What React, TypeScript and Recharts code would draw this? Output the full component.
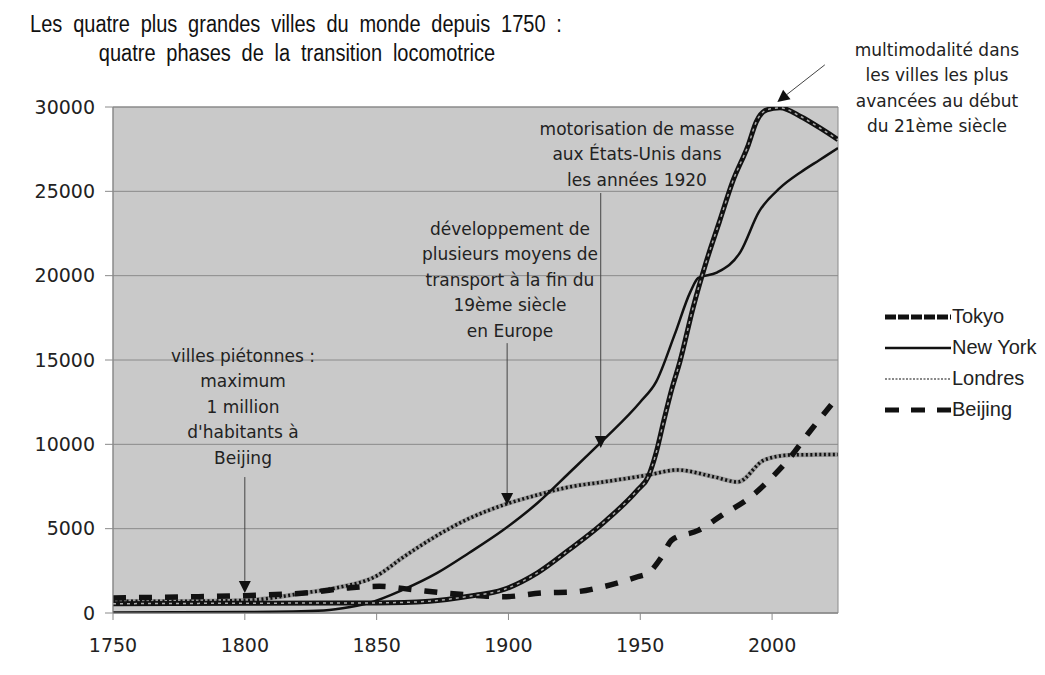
import React from 'react';
import { LineChart, Line, XAxis, YAxis, CartesianGrid, ReferenceLine, ReferenceArea } from 'recharts';

// population, milliers d'habitants
const tokyoYears = [1750, 1800, 1850, 1870, 1885, 1898, 1911, 1923, 1936, 1949, 1953, 1956, 1959, 1962, 1965, 1970, 1975, 1980, 1985, 1991, 1994, 1998, 2003, 2011, 2018, 2025];
const tokyoPop = [550, 580, 600, 700, 990, 1380, 2380, 3750, 5350, 7300, 8070, 9490, 11450, 13300, 14880, 18080, 20810, 23190, 25560, 27760, 29120, 29830, 29950, 29420, 28770, 28060];

const newYorkYears = [1750, 1800, 1830, 1840, 1847, 1860, 1873, 1885, 1898, 1911, 1923, 1936, 1950, 1956, 1963, 1969, 1972, 1979, 1988, 1995, 2003, 2011, 2018, 2025];
const newYorkPop = [30, 60, 150, 350, 590, 1380, 2380, 3560, 4920, 6520, 8300, 10260, 12510, 13700, 16490, 19040, 19870, 20180, 21410, 23780, 25200, 26150, 26860, 27570];

const londresYears = [1750, 1775, 1800, 1823, 1835, 1850, 1860, 1873, 1885, 1899, 1911, 1923, 1936, 1953, 1964, 1978, 1987, 1997, 2007, 2025];
const londresPop = [690, 700, 750, 1200, 1500, 2200, 3300, 4600, 5600, 6450, 7000, 7470, 7770, 8180, 8480, 8070, 7770, 9070, 9370, 9400];

const beijingYears = [1750, 1775, 1800, 1825, 1840, 1851, 1864, 1875, 1885, 1898, 1913, 1925, 1936, 1949, 1953, 1958, 1962, 1972, 1981, 1992, 2000, 2007, 2014, 2023];
const beijingPop = [890, 950, 1030, 1220, 1500, 1580, 1380, 1200, 1070, 960, 1190, 1250, 1560, 2150, 2370, 3300, 4330, 4900, 5800, 6900, 8050, 9250, 10700, 12450];

const yearTicks = [1750, 1800, 1850, 1900, 1950, 2000];
const popTicks = [0, 5000, 10000, 15000, 20000, 25000, 30000];

const toPoints = (years: number[], pop: number[]) => years.map((year, i) => ({ year, pop: pop[i] }));

const tokyo = toPoints(tokyoYears, tokyoPop);
const newYork = toPoints(newYorkYears, newYorkPop);
const londres = toPoints(londresYears, londresPop);
const beijing = toPoints(beijingYears, beijingPop);

// arrows: [start, tip] in data units
const arrows = [
  [{ x: 1800, y: 8060 }, { x: 1800, y: 1190 }],
  [{ x: 1899.5, y: 16000 }, { x: 1899.5, y: 6400 }],
  [{ x: 1935, y: 24900 }, { x: 1935, y: 9790 }],
  [{ x: 2020, y: 32500 }, { x: 2002, y: 30300 }],
];

const notes = [
  { x: 243, y: 356, lines: ['villes piétonnes :', 'maximum', '1 million', "d'habitants à", 'Beijing'] },
  { x: 510, y: 229, lines: ['développement de', 'plusieurs moyens de', 'transport à la fin du', '19ème siècle', 'en Europe'] },
  { x: 637, y: 129, lines: ['motorisation de masse', 'aux États-Unis dans', 'les années 1920'] },
  { x: 937, y: 50, lines: ['multimodalité dans', 'les villes les plus', 'avancées au début', 'du 21ème siècle'] },
];

const ArrowShape = (props: any) => {
  const { x1, y1, x2, y2 } = props;
  const ang = Math.atan2(y2 - y1, x2 - x1);
  const len = 12;
  const half = 6;
  const bx = x2 - len * Math.cos(ang);
  const by = y2 - len * Math.sin(ang);
  const px = -Math.sin(ang) * half;
  const py = Math.cos(ang) * half;
  return (
    <g>
      <line x1={x1} y1={y1} x2={bx} y2={by} stroke="#444" strokeWidth={1} />
      <polygon points={`${x2},${y2} ${bx + px},${by + py} ${bx - px},${by - py}`} fill="#111" />
    </g>
  );
};

const legendItems = [
  { name: 'Tokyo', key: 'tokyo' },
  { name: 'New York', key: 'ny' },
  { name: 'Londres', key: 'londres' },
  { name: 'Beijing', key: 'beijing' },
];

const LegendSwatch = ({ kind }: { kind: string }) => {
  if (kind === 'tokyo') {
    return <line x1={0} y1={7} x2={66} y2={7} stroke="#111" strokeWidth={5} strokeDasharray="11 2" />;
  }
  if (kind === 'ny') return <line x1={0} y1={7} x2={66} y2={7} stroke="#111" strokeWidth={2.5} />;
  if (kind === 'londres') return <line x1={0} y1={7} x2={66} y2={7} stroke="#888" strokeWidth={2} strokeDasharray="2 1.5" />;
  return <line x1={0} y1={7} x2={66} y2={7} stroke="#111" strokeWidth={5} strokeDasharray="14 12" />;
};

const CustomLegend = () => (
  <div style={{ position: 'absolute', left: 885, top: 301, display: 'flex', flexDirection: 'column' }}>
    {legendItems.map((item) => (
      <div key={item.key} style={{ display: 'flex', alignItems: 'center', height: 31 }}>
        <svg width={66} height={14}>
          <LegendSwatch kind={item.key} />
        </svg>
        <span style={{ fontFamily: '"Liberation Sans", Arial, sans-serif', fontSize: 20, color: '#222', marginLeft: 1 }}>
          {item.name}
        </span>
      </div>
    ))}
  </div>
);

export default function App() {
  const tickStyle = { fontFamily: '"DejaVu Sans", sans-serif', fontSize: 19, fill: '#222' };
  return (
    <div style={{ position: 'absolute', left: 0, top: 0, width: 1045, height: 675, background: '#fff' }}>
      <LineChart width={1045} height={675} margin={{ top: 107, right: 207, bottom: 22, left: 53 }}>
        <CartesianGrid vertical={false} stroke="#8a8a8a" fill="#c9c9c9" fillOpacity={1} />
        <XAxis
          type="number"
          dataKey="year"
          domain={[1750, 2025]}
          ticks={yearTicks}
          height={40}
          tick={tickStyle}
          tickSize={7}
          tickMargin={19}
          stroke="#8a8a8a"
          allowDataOverflow
        />
        <YAxis
          type="number"
          domain={[0, 30000]}
          ticks={popTicks}
          width={60}
          tick={tickStyle}
          tickSize={8}
          tickMargin={10}
          stroke="#8a8a8a"
          allowDataOverflow
        />
        <ReferenceArea x1={1750} x2={2025} y1={0} y2={30000} fill="none" fillOpacity={0} stroke="#8a8a8a" />
        <Line data={londres} dataKey="pop" type="monotone" stroke="#9a9a9a" strokeWidth={4.5} dot={false} activeDot={false} isAnimationActive={false} />
        <Line data={londres} dataKey="pop" type="monotone" stroke="#111" strokeWidth={3.5} strokeDasharray="2 2.5" dot={false} activeDot={false} isAnimationActive={false} />
        <Line data={beijing} dataKey="pop" type="monotone" stroke="#111" strokeWidth={5.5} strokeDasharray="13 13" dot={false} activeDot={false} isAnimationActive={false} />
        <Line data={newYork} dataKey="pop" type="monotone" stroke="#111" strokeWidth={2.5} dot={false} activeDot={false} isAnimationActive={false} />
        <Line data={tokyo} dataKey="pop" type="monotone" stroke="#111" strokeWidth={5} dot={false} activeDot={false} isAnimationActive={false} />
        <Line data={tokyo} dataKey="pop" type="monotone" stroke="#aaa" strokeWidth={1.5} strokeDasharray="3 4" dot={false} activeDot={false} isAnimationActive={false} />
        {arrows.map((seg, i) => (
          <ReferenceLine key={i} segment={seg} ifOverflow="visible" shape={ArrowShape} />
        ))}
      </LineChart>
      <CustomLegend />
      <svg width={1045} height={675} style={{ position: 'absolute', left: 0, top: 0, pointerEvents: 'none' }}>
        <g fontFamily='"Liberation Sans", Arial, sans-serif' fontSize={23} fill="#111" textAnchor="middle" wordSpacing={6}>
          <text x={0} y={32} transform="translate(296,0) scale(0.87,1)">
            Les quatre plus grandes villes du monde depuis 1750 :
          </text>
          <text x={0} y={61} transform="translate(297,0) scale(0.87,1)">
            quatre phases de la transition locomotrice
          </text>
        </g>
        <g fontFamily='"DejaVu Sans", sans-serif' fontSize={17} fill="#222" textAnchor="middle">
          {notes.map((n, i) =>
            n.lines.map((line, j) => (
              <text key={`${i}-${j}`} x={n.x} y={n.y + j * 25.5} dy="0.35em">
                {line}
              </text>
            ))
          )}
        </g>
      </svg>
    </div>
  );
}
